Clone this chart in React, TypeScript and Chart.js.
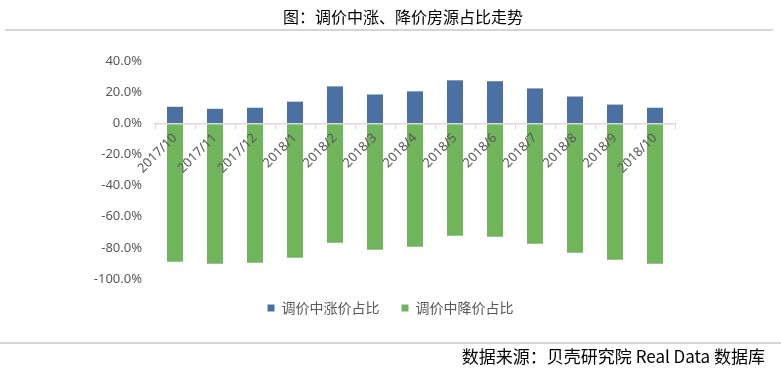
import React, { useEffect, useRef } from "react";
import { Chart, registerables } from "chart.js";

Chart.register(...registerables);

const categories = [
  "2017/10", "2017/11", "2017/12", "2018/1", "2018/2", "2018/3", "2018/4",
  "2018/5", "2018/6", "2018/7", "2018/8", "2018/9", "2018/10",
];
const riseShare = [10.6, 9.3, 10.0, 13.9, 23.7, 18.5, 20.5, 27.6, 27.0, 22.4, 17.2, 12.0, 10.0];
const fallShare = [-88.9, -90.2, -89.6, -86.3, -76.7, -81.2, -79.3, -72.2, -72.9, -77.4, -83.1, -87.6, -90.2];
const seriesNames = ["调价中涨价占比", "调价中降价占比"];
const titleText = "图：调价中涨、降价房源占比走势";
const sourceText = "数据来源：贝壳研究院 Real Data 数据库";
const yMin = -100;
const yMax = 40;
const yStep = 20;

const decorPlugin = {
  id: "decor",
  afterDraw(chart: any) {
    const ctx = chart.ctx as CanvasRenderingContext2D;
    ctx.save();
    ctx.fillStyle = "#000000";
    ctx.font = '16px "Noto Sans CJK SC"';
    ctx.textAlign = "center";
    ctx.textBaseline = "middle";
    ctx.fillText(titleText, 403, 17);
    ctx.strokeStyle = "#C8C8C8";
    ctx.lineWidth = 1.5;
    ctx.beginPath();
    ctx.moveTo(5, 30);
    ctx.lineTo(773, 30);
    ctx.moveTo(0, 343);
    ctx.lineTo(781, 343);
    ctx.stroke();
    ctx.font = '17px "Noto Sans CJK SC"';
    ctx.textAlign = "right";
    ctx.fillText(sourceText, 765, 357);
    ctx.restore();
  },
};

export default function App() {
  const canvasRef = useRef<HTMLCanvasElement | null>(null);

  useEffect(() => {
    document.body.style.margin = "0";
    const canvas = canvasRef.current;
    if (!canvas) return;
    const chart = new Chart(canvas, {
      type: "bar",
      data: {
        labels: categories,
        datasets: [
          {
            label: seriesNames[0],
            data: riseShare,
            backgroundColor: "#4A71A1",
            barPercentage: 0.5,
            categoryPercentage: 0.8,
          },
          {
            label: seriesNames[1],
            data: fallShare,
            backgroundColor: "#70B55C",
            barPercentage: 0.5,
            categoryPercentage: 0.8,
          },
        ],
      },
      options: {
        responsive: false,
        animation: false,
        layout: { padding: { top: 61, left: 0, right: 0, bottom: 55 } },
        plugins: {
          title: { display: false },
          tooltip: { enabled: false },
          legend: {
            display: true,
            position: "bottom",
            labels: {
              boxWidth: 7,
              boxHeight: 7,
              padding: 22,
              color: "#595959",
              font: { family: '"Noto Sans CJK SC"', size: 14 },
            },
          },
        },
        scales: {
          x: {
            stacked: true,
            position: { y: 0 } as any,
            z: 1,
            grid: {
              display: true,
              drawOnChartArea: false,
              drawTicks: true,
              tickLength: 5,
              color: "#D9D9D9",
              offset: true,
              z: 1,
            },
            border: { display: true, color: "#D9D9D9", width: 1.5, z: 1 },
            ticks: {
              autoSkip: false,
              maxRotation: 45,
              minRotation: 45,
              padding: 2,
              z: 2,
              color: "#595959",
              font: { family: '"Noto Sans"', size: 13 },
            },
          },
          y: {
            stacked: true,
            min: yMin,
            max: yMax,
            grid: { display: false, drawTicks: false },
            border: { display: false },
            ticks: {
              stepSize: yStep,
              padding: 13,
              color: "#595959",
              font: { family: '"Noto Sans"', size: 13 },
              callback: (v: any) => Number(v).toFixed(1) + "%",
            },
            afterFit: (scale: any) => {
              scale.width = 155;
            },
          },
          ySpacer: {
            type: "linear",
            position: "right",
            display: true,
            grid: { display: false, drawTicks: false },
            border: { display: false },
            ticks: { display: false },
            afterFit: (scale: any) => {
              scale.width = 106;
            },
          },
        },
      },
      plugins: [decorPlugin],
    });
    return () => chart.destroy();
  }, []);

  return (
    <div style={{ position: "absolute", left: 0, top: 0, width: 781, height: 380, background: "#fff" }}>
      <canvas ref={canvasRef} width={781} height={380} style={{ width: 781, height: 380, display: "block" }} />
    </div>
  );
}
